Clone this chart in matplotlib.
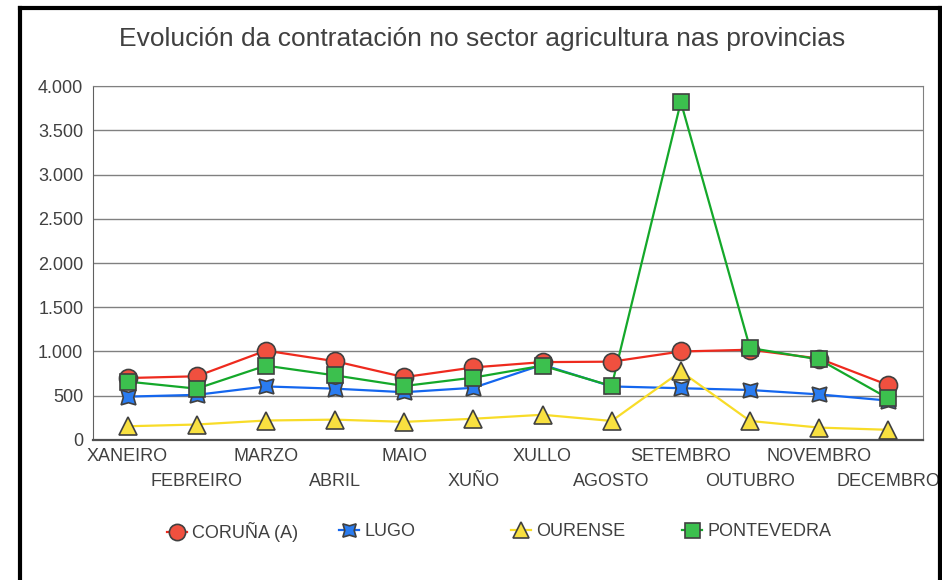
import numpy as np
import matplotlib
matplotlib.use("Agg")
import matplotlib.pyplot as plt
from matplotlib.ticker import FuncFormatter
from matplotlib.lines import Line2D

plt.rcParams['font.family'] = ['Liberation Sans', 'DejaVu Sans']

meses = ["XANEIRO", "FEBREIRO", "MARZO", "ABRIL", "MAIO", "XUÑO",
         "XULLO", "AGOSTO", "SETEMBRO", "OUTUBRO", "NOVEMBRO", "DECEMBRO"]

coruna = [700, 720, 1010, 890, 710, 820, 880, 885, 1000, 1020, 920, 620]
lugo = [490, 510, 605, 580, 540, 590, 850, 605, 585, 565, 515, 445]
ourense = [155, 175, 220, 230, 205, 240, 285, 215, 775, 215, 140, 115]
pontevedra = [660, 580, 840, 730, 610, 705, 840, 610, 3820, 1040, 910, 470]

series = [
    ("CORUÑA (A)", coruna, "#ee2a1e", "#f0503f", "o", 13),
    ("LUGO", lugo, "#1466ee", "#2a7cf0", (4, 1, 45), 15),
    ("OURENSE", ourense, "#f8dc28", "#f8e040", "^", 13),
    ("PONTEVEDRA", pontevedra, "#14a82a", "#3cc04e", "s", 12),
]

txt = "#404040"

fig = plt.figure(figsize=(9.42, 5.80), dpi=100)
ax = fig.add_axes([0.0987, 0.2414, 0.881, 0.6103])

x = np.arange(len(meses))
handles = []
for nome, vals, lc, fc, mk, ms in series:
    ax.plot(x, vals, color=lc, lw=1.6, zorder=3)
    ax.plot(x, vals, ls="none", marker=mk, ms=ms, mfc=fc, mec="#404040",
            mew=1.2, zorder=4)
    handles.append(Line2D([], [], color=lc, lw=1.6, marker=mk, ms=ms * 0.9,
                          mfc=fc, mec="#404040", mew=1.2))

ax.set_xlim(-0.5, len(meses) - 0.5)
ax.set_ylim(0, 4000)
ax.set_yticks(np.arange(0, 4001, 500))
ax.yaxis.set_major_formatter(FuncFormatter(lambda v, p: f"{int(v):,}".replace(",", ".")))
ax.set_xticks(x)
ax.set_xticklabels(meses)
ax.tick_params(axis="both", length=0, labelsize=13, colors=txt)
ax.tick_params(axis="y", pad=7)
ax.tick_params(axis="x", pad=6)
# etiquetas alternadas en duas filas
for i, t in enumerate(ax.xaxis.get_major_ticks()):
    if i % 2 == 1:
        t.set_pad(24)

ax.grid(axis="y", color="#808080", lw=1)
ax.set_axisbelow(True)
for s in ["top", "right"]:
    ax.spines[s].set_color("#808080")
ax.spines["left"].set_color("#606060")
ax.spines["bottom"].set_color("#505050")
ax.spines["bottom"].set_linewidth(1.6)

fig.text(0.512, 0.932, "Evolución da contratación no sector agricultura nas provincias",
         ha="center", va="center", fontsize=19, color=txt)

# lendas separadas con espazado fixo
leg_x = [0.160, 0.343, 0.525, 0.707]
for h, (nome, *_), lx in zip(handles, series, leg_x):
    fig.legend([h], [nome], loc="center left", bbox_to_anchor=(lx, 0.083),
               frameon=False, fontsize=13, handlelength=1.1, handletextpad=0.3,
               labelcolor=txt)

# marco exterior
fig.add_artist(Line2D([0.021, 0.021], [0.0, 0.986], color="black", lw=3))
fig.add_artist(Line2D([0.021, 0.9975], [0.986, 0.986], color="black", lw=3))
fig.add_artist(Line2D([0.9975, 0.9975], [0.0, 0.986], color="black", lw=3))

fig.savefig("out.png", dpi=100, facecolor="white")
